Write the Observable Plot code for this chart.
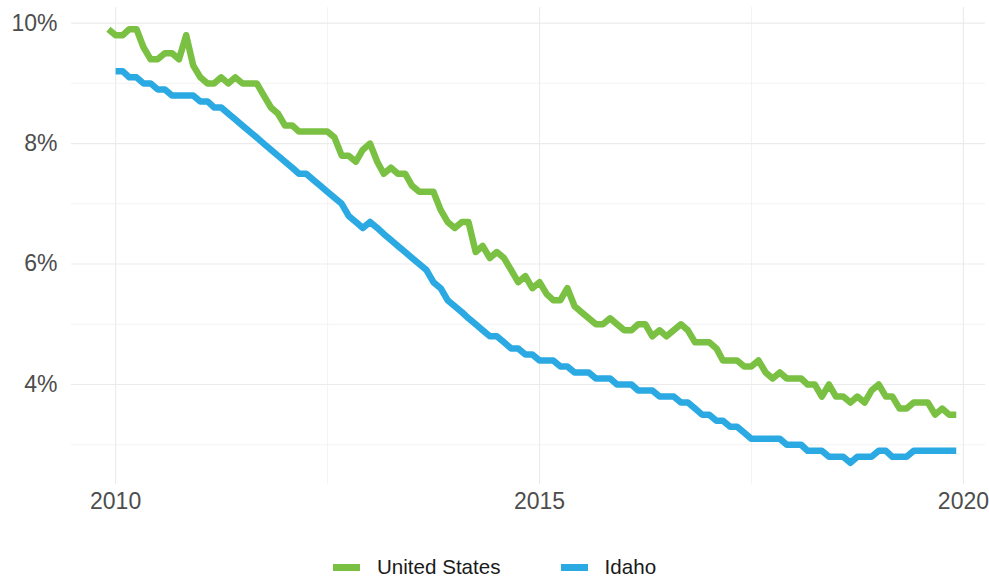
<!DOCTYPE html>
<html>
<head>
<meta charset="utf-8">
<script src="https://cdn.jsdelivr.net/npm/d3@7"></script>
<script src="https://cdn.jsdelivr.net/npm/@observablehq/plot@0.6"></script>
<style>
  html, body { margin: 0; padding: 0; background: #fff; }
  #chart { position: relative; width: 989px; height: 578px; font-family: Arial, "Liberation Sans", sans-serif; }
  #plot svg { display: block; }
  #legend { position: absolute; left: 0; top: 553px; width: 989px; height: 28px; display: flex; justify-content: center; align-items: center; font-size: 20.6px; color: #1a1a1a; }
  #legend .item { display: flex; align-items: center; margin: 0 30px; }
  #legend .sw { display: inline-block; width: 27px; height: 7px; margin-right: 17px; }
</style>
</head>
<body>
<div id="chart">
  <div id="plot"></div>
  <div id="legend"></div>
</div>
<script>
// Series names and colours
const seriesNames = ["United States", "Idaho"];
const seriesColors = ["#7AC143", "#2BA9E3"];

// Monthly unemployment rate (%), United States: Dec 2009 – Dec 2019
const usStart = [2009, 11];
const usValues = [
  9.9,
  9.8, 9.8, 9.9, 9.9, 9.6, 9.4, 9.4, 9.5, 9.5, 9.4, 9.8, 9.3,
  9.1, 9.0, 9.0, 9.1, 9.0, 9.1, 9.0, 9.0, 9.0, 8.8, 8.6, 8.5,
  8.3, 8.3, 8.2, 8.2, 8.2, 8.2, 8.2, 8.1, 7.8, 7.8, 7.7, 7.9,
  8.0, 7.7, 7.5, 7.6, 7.5, 7.5, 7.3, 7.2, 7.2, 7.2, 6.9, 6.7,
  6.6, 6.7, 6.7, 6.2, 6.3, 6.1, 6.2, 6.1, 5.9, 5.7, 5.8, 5.6,
  5.7, 5.5, 5.4, 5.4, 5.6, 5.3, 5.2, 5.1, 5.0, 5.0, 5.1, 5.0,
  4.9, 4.9, 5.0, 5.0, 4.8, 4.9, 4.8, 4.9, 5.0, 4.9, 4.7, 4.7,
  4.7, 4.6, 4.4, 4.4, 4.4, 4.3, 4.3, 4.4, 4.2, 4.1, 4.2, 4.1,
  4.1, 4.1, 4.0, 4.0, 3.8, 4.0, 3.8, 3.8, 3.7, 3.8, 3.7, 3.9,
  4.0, 3.8, 3.8, 3.6, 3.6, 3.7, 3.7, 3.7, 3.5, 3.6, 3.5, 3.5
];

// Monthly unemployment rate (%), Idaho: Jan 2010 – Dec 2019
const idahoStart = [2010, 0];
const idahoValues = [
  9.2, 9.2, 9.1, 9.1, 9.0, 9.0, 8.9, 8.9, 8.8, 8.8, 8.8, 8.8,
  8.7, 8.7, 8.6, 8.6, 8.5, 8.4, 8.3, 8.2, 8.1, 8.0, 7.9, 7.8,
  7.7, 7.6, 7.5, 7.5, 7.4, 7.3, 7.2, 7.1, 7.0, 6.8, 6.7, 6.6,
  6.7, 6.6, 6.5, 6.4, 6.3, 6.2, 6.1, 6.0, 5.9, 5.7, 5.6, 5.4,
  5.3, 5.2, 5.1, 5.0, 4.9, 4.8, 4.8, 4.7, 4.6, 4.6, 4.5, 4.5,
  4.4, 4.4, 4.4, 4.3, 4.3, 4.2, 4.2, 4.2, 4.1, 4.1, 4.1, 4.0,
  4.0, 4.0, 3.9, 3.9, 3.9, 3.8, 3.8, 3.8, 3.7, 3.7, 3.6, 3.5,
  3.5, 3.4, 3.4, 3.3, 3.3, 3.2, 3.1, 3.1, 3.1, 3.1, 3.1, 3.0,
  3.0, 3.0, 2.9, 2.9, 2.9, 2.8, 2.8, 2.8, 2.7, 2.8, 2.8, 2.8,
  2.9, 2.9, 2.8, 2.8, 2.8, 2.9, 2.9, 2.9, 2.9, 2.9, 2.9, 2.9
];

// Axis ticks and grid
const xTickYears = [2010, 2015, 2020];
const xMinorDates = ["2012-07-02", "2017-07-02"];
const yTicks = [4, 6, 8, 10];
const yMinor = [3, 5, 7, 9];

// Build table
const toRows = (name, start, values) =>
  values.map((v, i) => ({ series: name, date: new Date(Date.UTC(start[0], start[1] + i, 1)), value: v }));
const data = [
  ...toRows(seriesNames[0], usStart, usValues),
  ...toRows(seriesNames[1], idahoStart, idahoValues)
];
const xTicks = xTickYears.map(y => new Date(Date.UTC(y, 0, 1)));
const xMinor = xMinorDates.map(s => new Date(s + "T00:00:00Z"));

const plot = Plot.plot({
  width: 989,
  height: 514,
  marginLeft: 71,
  marginRight: 4,
  marginTop: 7,
  marginBottom: 30,
  style: { fontFamily: "Arial, 'Liberation Sans', sans-serif", fontSize: "23px", color: "#4d4d4d", background: "#fff", overflow: "visible" },
  x: { type: "utc", domain: [new Date(Date.UTC(2009, 5, 25)), new Date(Date.UTC(2020, 3, 5))], ticks: xTicks, tickFormat: d3.utcFormat("%Y"), tickSize: 0, tickPadding: 8, label: null },
  y: { domain: [2.34, 10.26], ticks: yTicks, tickFormat: d => d + "%", tickSize: 0, tickPadding: 14, label: null },
  color: { domain: seriesNames, range: seriesColors },
  marks: [
    Plot.ruleY(yMinor, { stroke: "#ebebeb", strokeWidth: 0.6 }),
    Plot.ruleX(xMinor, { stroke: "#ebebeb", strokeWidth: 0.6 }),
    Plot.ruleY(yTicks, { stroke: "#ebebeb", strokeWidth: 1.1 }),
    Plot.ruleX(xTicks, { stroke: "#ebebeb", strokeWidth: 1.1 }),
    Plot.line(data, { x: "date", y: "value", z: "series", stroke: "series", strokeWidth: 6.5, strokeLinecap: "butt", strokeLinejoin: "round" })
  ]
});
document.getElementById("plot").appendChild(plot);

// Legend
const legend = d3.select("#legend");
seriesNames.forEach((name, i) => {
  const item = legend.append("div").attr("class", "item");
  item.append("span").attr("class", "sw").style("background", seriesColors[i]);
  item.append("span").text(name);
});
</script>
</body>
</html>
